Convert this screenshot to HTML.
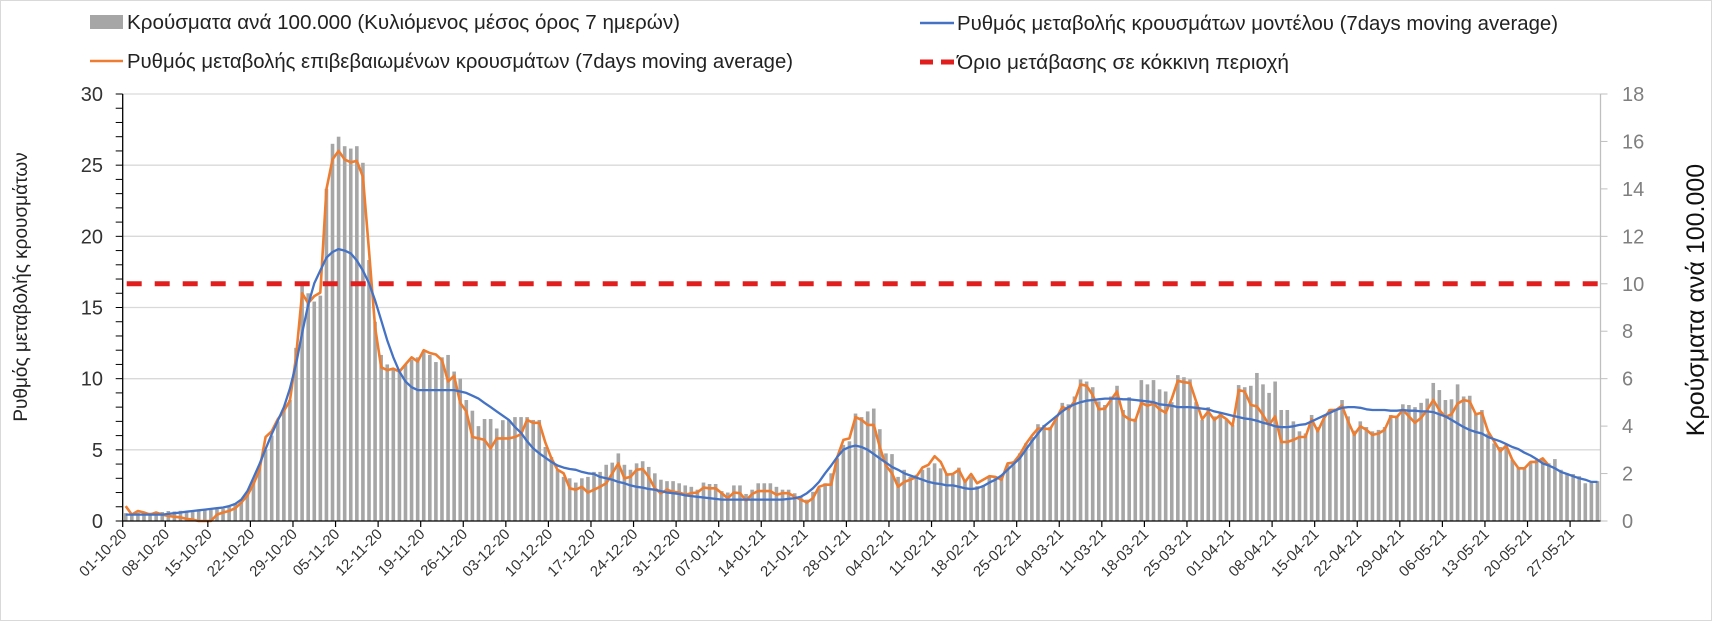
<!DOCTYPE html>
<html><head><meta charset="utf-8">
<style>
html,body{margin:0;padding:0;background:#fff;}
svg{display:block;font-family:"Liberation Sans","DejaVu Sans",sans-serif;}
</style></head>
<body>
<svg id="chart" width="1712" height="621" viewBox="0 0 1712 621" xmlns="http://www.w3.org/2000/svg">
<rect x="0.5" y="0.5" width="1711" height="620" fill="#fff" stroke="#d9d9d9"/>
<g id="grid"></g>
<g id="bars"></g>
<g id="lines"></g>
<g id="axes"></g>
<g>
  <g>
    <rect x="90" y="15" width="33" height="14" fill="#a6a6a6"/>
    <text x="127" y="29" font-size="20" fill="#222" textLength="553" lengthAdjust="spacingAndGlyphs">Κρούσματα ανά 100.000 (Κυλιόμενος μέσος όρος 7 ημερών)</text>
  </g>
  <g>
    <line x1="90" y1="61" x2="123" y2="61" stroke="#ed7d31" stroke-width="2.5"/>
    <text x="127" y="68" font-size="20" fill="#222" textLength="666" lengthAdjust="spacingAndGlyphs">Ρυθμός μεταβολής επιβεβαιωμένων κρουσμάτων (7days moving average)</text>
  </g>
  <g>
    <line x1="920" y1="23" x2="954" y2="23" stroke="#4472c4" stroke-width="2.5"/>
    <text x="957" y="30" font-size="20" fill="#222" textLength="601" lengthAdjust="spacingAndGlyphs">Ρυθμός μεταβολής κρουσμάτων μοντέλου (7days moving average)</text>
  </g>
  <g>
    <line x1="920" y1="62" x2="954" y2="62" stroke="#e01e1e" stroke-width="5" stroke-dasharray="13,8"/>
    <text x="957" y="69" font-size="20" fill="#222" textLength="332" lengthAdjust="spacingAndGlyphs">Όριο μετάβασης σε κόκκινη περιοχή</text>
  </g>
</g>
<text transform="translate(27,287) rotate(-90)" text-anchor="middle" font-size="19" fill="#222">Ρυθμός μεταβολής κρουσμάτων</text>
<text transform="translate(1704,300) rotate(-90)" text-anchor="middle" font-size="25" fill="#111">Κρούσματα ανά 100.000</text>
</svg>
<script>
const tickLabels=["01-10-20","08-10-20","15-10-20","22-10-20","29-10-20","05-11-20","12-11-20","19-11-20","26-11-20","03-12-20","10-12-20","17-12-20","24-12-20","31-12-20","07-01-21","14-01-21","21-01-21","28-01-21","04-02-21","11-02-21","18-02-21","25-02-21","04-03-21","11-03-21","18-03-21","25-03-21","01-04-21","08-04-21","15-04-21","22-04-21","29-04-21","06-05-21","13-05-21","20-05-21","27-05-21"];
const leftTicks=[0,5,10,15,20,25,30];
const rightTicks=[0,2,4,6,8,10,12,14,16,18];
const threshold=[16.67];
const barValues=[
0.33,0.32,0.35,0.33,0.35,0.38,0.38,
0.42,0.40,0.43,0.42,0.42,0.44,0.45,
0.48,0.5,0.52,0.6,0.75,0.78,1.2,
1.7,2.3,3.0,3.6,4.2,4.7,5.1,
7.3,9.95,9.6,9.25,9.5,14.0,15.9,
16.2,15.8,15.7,15.8,15.1,11.0,8.4,
7.0,6.6,6.4,6.4,6.6,6.8,6.9,
7.2,7.0,6.7,6.9,7.0,6.3,6.0,
5.1,4.65,4.0,4.3,4.3,3.9,4.25,
4.26,4.38,4.38,4.38,4.26,4.26,3.12,
2.7,2.16,1.86,1.8,1.62,1.8,1.86,
2.07,2.07,2.37,2.46,2.85,2.37,2.16,
2.43,2.52,2.28,2.01,1.74,1.68,1.68,
1.59,1.5,1.44,1.32,1.62,1.56,1.56,
1.26,1.2,1.5,1.5,1.14,1.32,1.59,
1.59,1.59,1.44,1.32,1.32,1.17,1.02,
0.9,1.23,1.38,1.59,2.01,2.64,3.21,
3.36,4.53,4.38,4.62,4.74,3.87,2.85,
2.82,1.86,2.16,1.86,1.95,2.16,2.25,
2.43,2.22,2.01,1.95,2.25,1.74,1.86,
1.47,1.5,1.89,1.89,1.86,2.37,2.52,
2.85,3.27,3.54,4.08,4.05,3.96,4.41,
4.98,4.92,5.25,5.97,5.88,5.64,5.04,
4.89,5.25,5.7,4.68,5.22,4.32,5.94,
5.76,5.94,5.55,5.46,5.01,6.15,6.06,
5.97,5.01,4.26,4.8,4.41,4.53,4.26,
4.05,5.73,5.64,5.7,6.24,5.76,5.4,
5.88,4.68,4.68,4.2,3.78,3.69,4.47,
3.96,4.32,4.71,4.74,5.1,4.41,3.81,
4.2,3.96,3.78,3.84,3.96,4.47,4.44,
4.92,4.89,4.8,4.98,5.16,5.82,5.52,
5.1,5.13,5.76,5.25,5.28,4.5,4.68,
3.69,3.27,3.12,3.21,2.58,2.28,2.22,
2.49,2.58,2.64,2.43,2.61,2.16,2.01,
1.98,1.89,1.59,1.65,1.68];
const orangeValues=[
1.05,0.45,0.7,0.6,0.45,0.6,0.45,
0.35,0.3,0.25,0.15,0.1,0,0,
0,0.45,0.6,0.7,0.9,1.3,1.8,
2.6,3.6,5.9,6.3,7.15,7.75,8.45,
11.5,16.0,15.3,15.8,16.05,23.3,25.4,
26.0,25.4,25.2,25.3,24.2,19.0,13.6,
10.8,10.6,10.7,10.5,11.0,11.5,11.2,
12.0,11.8,11.7,11.3,9.8,10.2,8.3,
7.7,5.9,5.8,5.7,5.1,5.8,5.8,
5.8,5.9,6.1,7.1,6.9,6.9,5.5,
4.4,3.6,3.35,2.3,2.2,2.4,2.0,
2.2,2.4,2.65,3.35,4.05,3.0,3.1,
3.6,3.65,3.1,2.3,1.95,2.2,2.05,
2.0,1.85,1.95,2.0,2.35,2.3,2.3,
1.95,1.6,2.0,1.95,1.45,1.9,2.1,
2.1,2.1,1.85,1.95,1.95,1.7,1.5,
1.3,1.6,2.4,2.55,2.55,4.5,5.7,
5.8,7.3,7.1,6.75,6.75,5.2,3.9,
3.35,2.4,2.75,2.9,3.1,3.75,3.95,
4.55,4.15,3.25,3.3,3.6,2.75,3.3,
2.65,2.9,3.15,3.1,2.9,4.05,4.1,
4.65,5.4,6.0,6.5,6.5,6.45,7.2,
8.0,7.85,8.4,9.6,9.5,8.85,7.85,
7.9,8.5,9.1,7.45,7.15,7.05,8.3,
8.1,8.25,7.85,7.6,8.6,9.85,9.75,
9.7,8.4,7.15,7.7,7.1,7.45,7.15,
6.7,9.2,9.1,8.15,8.05,7.45,6.75,
7.35,5.55,5.55,5.7,5.9,5.9,7.15,
6.3,7.2,7.8,7.8,8.1,7.0,6.05,
6.65,6.4,6.05,6.15,6.4,7.35,7.3,
7.8,7.35,6.9,7.25,7.8,8.5,7.8,
7.3,7.5,8.25,8.5,8.4,7.5,7.6,
6.3,5.6,4.9,5.3,4.3,3.7,3.7,
4.15,4.15,4.4,3.9];
const blueValues=[
0.45,0.45,0.45,0.45,0.45,0.45,0.45,
0.5,0.55,0.6,0.65,0.7,0.75,0.8,
0.85,0.9,0.95,1.05,1.2,1.5,2.1,
3.05,4.0,5.05,6.1,7.05,8.0,9.3,
11.0,13.2,15.2,16.7,17.6,18.5,18.9,
19.1,19.0,18.8,18.3,17.6,16.7,15.5,
14.1,12.7,11.5,10.5,9.8,9.4,9.2,
9.2,9.2,9.2,9.2,9.2,9.2,9.1,
9.0,8.8,8.6,8.3,8.0,7.7,7.4,
7.1,6.6,6.2,5.6,5.1,4.75,4.45,
4.15,3.9,3.75,3.65,3.6,3.45,3.35,
3.3,3.1,3.0,2.9,2.75,2.65,2.5,
2.4,2.35,2.25,2.2,2.1,2.0,1.95,
1.9,1.8,1.75,1.7,1.65,1.6,1.55,
1.5,1.5,1.5,1.5,1.5,1.5,1.5,
1.5,1.5,1.5,1.5,1.55,1.6,1.7,
1.95,2.3,2.75,3.35,3.9,4.5,5.0,
5.2,5.3,5.2,5.0,4.7,4.4,4.1,
3.8,3.6,3.35,3.2,3.05,2.9,2.75,
2.65,2.6,2.5,2.5,2.4,2.3,2.25,
2.3,2.45,2.7,2.9,3.2,3.6,4.0,
4.4,5.0,5.6,6.15,6.65,7.0,7.35,
7.7,8.0,8.2,8.35,8.45,8.5,8.55,
8.6,8.6,8.6,8.55,8.55,8.5,8.45,
8.4,8.35,8.2,8.15,8.1,8.0,8.0,
8.0,7.95,7.9,7.85,7.7,7.6,7.5,
7.4,7.3,7.2,7.15,7.05,6.9,6.8,
6.65,6.6,6.6,6.65,6.75,6.8,7.0,
7.2,7.4,7.6,7.8,7.95,8.0,8.0,
7.95,7.85,7.8,7.8,7.8,7.75,7.75,
7.8,7.75,7.75,7.7,7.7,7.65,7.5,
7.35,7.1,6.85,6.6,6.4,6.25,6.15,
5.9,5.75,5.6,5.4,5.2,5.05,4.8,
4.6,4.35,4.05,3.9,3.7,3.45,3.3,
3.15,3.0,2.9,2.75,2.75];

const NS="http://www.w3.org/2000/svg";
const X0=122.7, X1=1600.5, Y0=521, Y1=94;
const dayW=(X1-X0)/243;
function xCenter(i){return X0+dayW*(i+0.5);}
function xBoundary(i){return X0+dayW*i;}
function yLeft(v){return Y0-(v/30)*(Y0-Y1);}
function yRight(v){return Y0-(v/18)*(Y0-Y1);}
function mk(tag,attrs,parent){const e=document.createElementNS(NS,tag);for(const k in attrs)e.setAttribute(k,attrs[k]);parent.appendChild(e);return e;}

const grid=document.getElementById('grid');
leftTicks.forEach(v=>{
  if(v===0)return;
  const l=mk('line',{x1:X0,x2:X1,y1:yLeft(v),y2:yLeft(v),stroke:'#d9d9d9','stroke-width':1.3},grid);
  
  
});

const barsG=document.getElementById('bars');
barValues.forEach((v,i)=>{
  const y=yRight(v);
  const r=mk('rect',{x:xCenter(i)-1.8,y:y,width:3.6,height:Y0-y,fill:'#a6a6a6'},barsG);
  
  
});

const linesG=document.getElementById('lines');
const th=mk('line',{x1:X0+4,x2:X1,y1:yLeft(threshold[0]),y2:yLeft(threshold[0]),stroke:'#e01e1e','stroke-width':5,'stroke-dasharray':'15,13'},linesG);



function pts(arr){return arr.map((v,i)=>xCenter(i).toFixed(1)+','+yLeft(v).toFixed(1)).join(' ');}
const ol=mk('polyline',{points:pts(orangeValues),fill:'none',stroke:'#ed7d31','stroke-width':2.6,'stroke-linejoin':'round'},linesG);


const bl=mk('polyline',{points:pts(blueValues),fill:'none',stroke:'#4472c4','stroke-width':2.3,'stroke-linejoin':'round'},linesG);



const axes=document.getElementById('axes');
const la=mk('line',{x1:X0,x2:X0,y1:Y1,y2:Y0,stroke:'#000','stroke-width':1.3},axes);


for(let v=0;v<=30;v++){
  mk('line',{x1:X0-7,x2:X0,y1:yLeft(v),y2:yLeft(v),stroke:'#000','stroke-width':1},axes);
}
leftTicks.forEach(v=>{
  const t=mk('text',{x:103,y:yLeft(v)+7,'text-anchor':'end','font-size':20,fill:'#333'},axes);
  t.textContent=v;
  
  
});
const ra=mk('line',{x1:X1,x2:X1,y1:Y1,y2:Y0,stroke:'#bfbfbf','stroke-width':1.3},axes);


rightTicks.forEach(v=>{
  mk('line',{x1:X1,x2:X1+7,y1:yRight(v),y2:yRight(v),stroke:'#bfbfbf','stroke-width':1},axes);
  const t=mk('text',{x:1622,y:yRight(v)+7,'font-size':20,fill:'#7f7f7f'},axes);
  t.textContent=v;
  
  
});
const xa=mk('line',{x1:X0,x2:X1,y1:Y0,y2:Y0,stroke:'#000','stroke-width':1.3},axes);


tickLabels.forEach((lab,k)=>{
  const x=xBoundary(k*7);
  mk('line',{x1:x,x2:x,y1:Y0,y2:Y0+6,stroke:'#000','stroke-width':1.2},axes);
  const t=mk('text',{transform:'translate('+(x+5)+','+(Y0+14)+') rotate(-45)','text-anchor':'end','font-size':15,fill:'#333'},axes);
  t.textContent=lab;
  
  
});
</script>
</body></html>
